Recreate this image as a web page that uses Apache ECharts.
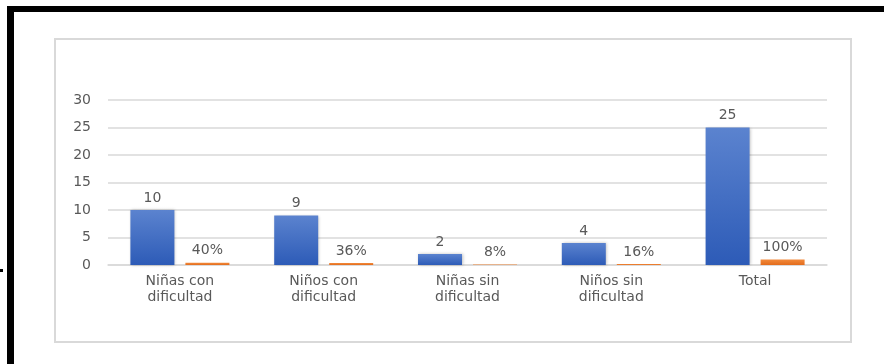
<!DOCTYPE html>
<html>
<head>
<meta charset="utf-8">
<script src="https://cdn.jsdelivr.net/npm/echarts@6/dist/echarts.min.js"></script>
<style>
  html, body { margin: 0; padding: 0; background: #fff; }
  #chart { width: 884px; height: 364px; }
</style>
</head>
<body>
<div id="chart"></div>
<script>
// Categories and values
const categories = ['Niñas con\ndificultad', 'Niños con\ndificultad', 'Niñas sin\ndificultad', 'Niños sin\ndificultad', 'Total'];
const counts = [10, 9, 2, 4, 25];
const shares = [0.40, 0.36, 0.08, 0.16, 1.00];
const shareLabels = ['40%', '36%', '8%', '16%', '100%'];
const yTicks = { min: 0, max: 30, interval: 5 };

const textColor = '#595959';
const fontFamily = 'DejaVu Sans';

const chart = echarts.init(document.getElementById('chart'), null, { renderer: 'canvas' });

chart.setOption({
  animation: false,
  backgroundColor: '#ffffff',
  grid: { left: 108, right: 57, top: 100, bottom: 99, containLabel: false },
  xAxis: {
    type: 'category',
    data: categories,
    axisLine: { show: true, lineStyle: { color: '#d9d9d9', width: 1.5 } },
    axisTick: { show: false },
    axisLabel: {
      color: textColor, fontFamily: fontFamily, fontSize: 14,
      lineHeight: 16, margin: 8, interval: 0
    }
  },
  yAxis: {
    type: 'value',
    min: yTicks.min, max: yTicks.max, interval: yTicks.interval,
    axisLine: { show: false },
    axisTick: { show: false },
    splitLine: { lineStyle: { color: '#d9d9d9', width: 1.5 } },
    axisLabel: { color: textColor, fontFamily: fontFamily, fontSize: 14, margin: 17 }
  },
  series: [
    {
      name: 'Cantidad',
      type: 'bar',
      data: counts,
      barWidth: 44,
      barGap: '25%',
      itemStyle: {
        color: new echarts.graphic.LinearGradient(0, 0, 0, 1, [
          { offset: 0, color: '#5b83cf' },
          { offset: 1, color: '#2d5bb7' }
        ]),
        shadowColor: 'rgba(0,0,0,0.25)',
        shadowBlur: 3,
        shadowOffsetX: 1
      },
      label: {
        show: true, position: 'top', distance: 5,
        color: textColor, fontFamily: fontFamily, fontSize: 14
      }
    },
    {
      name: 'Porcentaje',
      type: 'bar',
      data: shares,
      barWidth: 44,
      itemStyle: {
        color: new echarts.graphic.LinearGradient(0, 0, 0, 1, [
          { offset: 0, color: '#f28a3c' },
          { offset: 1, color: '#e36c1c' }
        ])
      },
      label: {
        show: true, position: 'top', distance: 5,
        color: textColor, fontFamily: fontFamily, fontSize: 14,
        formatter: (p) => shareLabels[p.dataIndex]
      }
    }
  ],
  graphic: [
    // outer black frame (top and left edges)
    { type: 'rect', shape: { x: 7, y: 6, width: 877, height: 6 }, style: { fill: '#000' }, silent: true },
    { type: 'rect', shape: { x: 7, y: 6, width: 7, height: 358 }, style: { fill: '#000' }, silent: true },
    { type: 'rect', shape: { x: 0, y: 269, width: 3, height: 3 }, style: { fill: '#000' }, silent: true },
    // chart area border
    { type: 'rect', shape: { x: 55, y: 39, width: 796, height: 303 },
      style: { fill: null, stroke: '#d9d9d9', lineWidth: 2 }, silent: true, z: -1 }
  ]
});
</script>
</body>
</html>
